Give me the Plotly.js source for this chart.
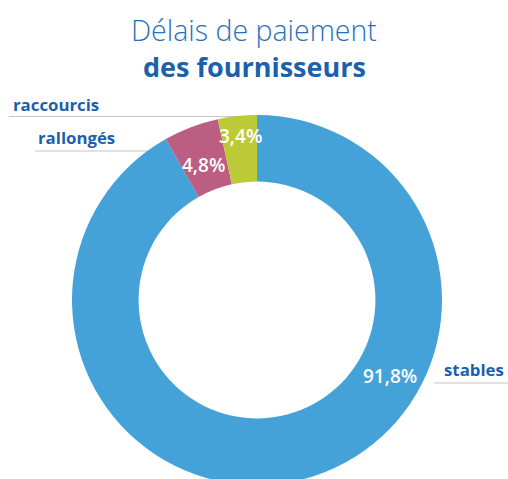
<!DOCTYPE html>
<html>
<head>
<meta charset="utf-8">
<script src="https://cdn.plot.ly/plotly-3.0.1.min.js"></script>
<style>
html,body{margin:0;padding:0;overflow:hidden;background:#fff;}
#chart{width:508px;height:490px;}
</style>
</head>
<body>
<div id="chart"></div>
<script>
const categories = ["stables", "rallongés", "raccourcis"];
const values = [91.8, 4.8, 3.4];
const valueLabels = ["91,8%", "4,8%", "3,4%"];
const colors = ["#45a2d9", "#bb5e82", "#bdca37"];

const W = 508, H = 490;
const px = x => x / W;
const py = y => 1 - y / H;

const cx = 257, cy = 300, R = 185;

const trace = {
  type: "pie",
  labels: categories,
  values: values,
  sort: false,
  direction: "clockwise",
  rotation: 0,
  hole: 0.64,
  textinfo: "none",
  hoverinfo: "label+percent",
  marker: {colors: colors, line: {color: "#ffffff", width: 0}},
  showlegend: false,
  domain: {x: [px(cx - R), px(cx + R)], y: [py(cy + R), py(cy - R)]}
};

const labelFont = {family: "Open Sans, sans-serif", size: 16.8, color: "#1b5fad", weight: 700};
const pctFont = {family: "Open Sans, sans-serif", size: 19, color: "#ffffff", weight: 600};

const annotations = [
  {text: "Délais de paiement", x: 0.5, y: py(30), font: {family: "Open Sans, sans-serif", size: 28.5, color: "#2a70bd", weight: 300}},
  {text: "<b>des fournisseurs</b>", x: 0.5, y: py(66), font: {family: "Open Sans, sans-serif", size: 27, color: "#1b5fad"}},
  {text: categories[2], x: px(11), y: py(104), xanchor: "left", font: labelFont},
  {text: categories[1], x: px(36), y: py(137), xanchor: "left", font: labelFont},
  {text: categories[0], x: px(442), y: py(369), xanchor: "left", font: labelFont},
  {text: valueLabels[0], x: px(390), y: py(376), font: pctFont},
  {text: valueLabels[1], x: px(203), y: py(165), font: pctFont},
  {text: valueLabels[2], x: px(240), y: py(136), font: pctFont}
].map(a => Object.assign({xref: "paper", yref: "paper", showarrow: false, xanchor: "center", yanchor: "middle"}, a));

const lineStyle = {color: "#c6c6c6", width: 1.2};
const shapes = [
  {x0: px(9), x1: px(255), y0: py(116.5), y1: py(116.5)},
  {x0: px(35), x1: px(157), y0: py(151), y1: py(151)},
  {x0: px(434), x1: px(508), y0: py(383), y1: py(383)}
].map(s => Object.assign({type: "line", xref: "paper", yref: "paper", layer: "below", line: lineStyle}, s));

const layout = {
  width: W, height: H,
  margin: {l: 0, r: 0, t: 0, b: 0},
  paper_bgcolor: "#ffffff",
  plot_bgcolor: "#ffffff",
  annotations: annotations,
  shapes: shapes
};

Plotly.newPlot("chart", [trace], layout, {displayModeBar: false, staticPlot: true});
</script>
</body>
</html>
